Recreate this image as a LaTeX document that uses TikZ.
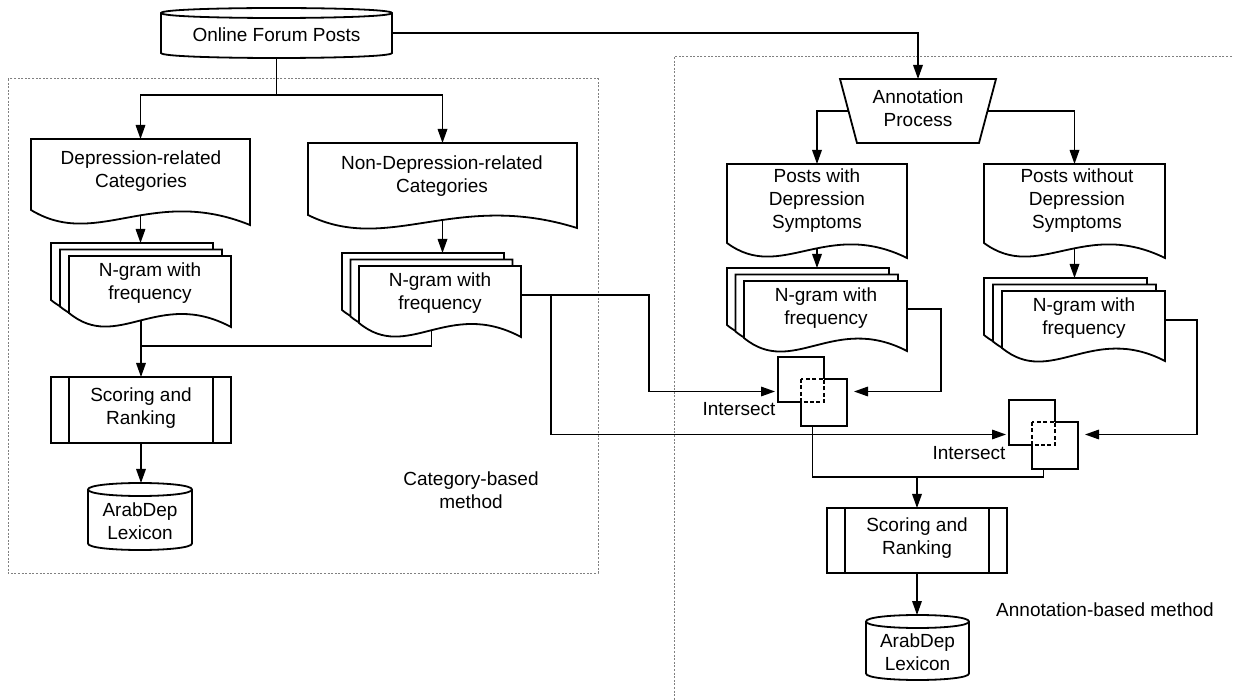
\documentclass[tikz,border=0pt]{standalone}
\usepackage{fontspec}
\setmainfont{Liberation Sans}
\usetikzlibrary{arrows.meta}
\newcommand\docp[5]{\path[shp] (#1,#2) -- (#3,#2) -- (#3,{#4+#5}) .. controls ({#1+0.55*(#3-#1)},{#4-25}) and ({#1+0.3*(#3-#1)},{#4+40}) .. (#1,#4) -- cycle;}
\newcommand\cylp[5]{%
 \path[shp] (#1,{#2+#5}) -- (#1,{#4-#5}) .. controls (#1,{#4+#5/3}) and (#3,{#4+#5/3}) .. (#3,{#4-#5}) -- (#3,{#2+#5}) .. controls (#3,{#2-#5/3}) and (#1,{#2-#5/3}) .. (#1,{#2+#5}) -- cycle;
 \draw[shp,fill=none] (#1,{#2+#5}) .. controls (#1,{#2+#5+4*#5/3}) and (#3,{#2+#5+4*#5/3}) .. (#3,{#2+#5});}
\newcommand\areanode[5]{\node[area, minimum width={(#4-#2)*0.5pt}, minimum height={(#5-#3)*0.5pt}] (#1) at ({(#2+#4)/2},{(#3+#5)/2}) {};}
\begin{document}
\begin{tikzpicture}[
  x=0.5pt, y=-0.5pt,
  shp/.style={draw=black, line width=0.9pt, fill=white, line join=miter},
  con/.style={draw=black, line width=0.7pt},
  arr/.style={con, -{Triangle[length=7pt,width=4.8pt]}},
  dotbox/.style={draw=black!50, line width=0.5pt, dash pattern=on 1pt off 0.8pt},
  lbl/.style={font=\fontsize{9.5}{11.5}\selectfont, align=center, inner sep=0pt},
  area/.style={rectangle, inner sep=0pt, outer sep=0pt, draw=none},
  dsh/.style={draw=black, line width=0.9pt, dash pattern=on 2pt off 1.2pt}
]
\useasboundingbox (0,0) rectangle (1233,700);
\clip (0,0) rectangle (1233,700);
\fill[white] (0,0) rectangle (1233,700);

% regions
\draw[dotbox] (8,79) rectangle (598,573);
\draw[dotbox] (674,57) rectangle (1260,720);

% source
\cylp{161}{8}{392}{58}{5}
\areanode{ofp}{161}{8}{392}{58}
\node[lbl] (tofp) at (276.5,35) {Online Forum Posts};

% annotation process
\path[shp] (840,79) -- (996,79) -- (979,143) -- (857,143) -- cycle;
\areanode{ap}{840}{79}{996}{143}
\node[lbl] (tap) at (918,108.5) {Annotation\\Process};
\coordinate (apL) at (848,111);
\coordinate (apR) at (988,111);

% documents
\docp{31}{139}{250}{210}{15}
\areanode{d1}{31}{139}{250}{216}
\node[lbl] (td1) at (141,171.5) {Depression-related\\Categories};
\docp{308}{143}{577}{215}{13}
\areanode{d2}{308}{143}{577}{221}
\node[lbl] (td2) at (442,176) {Non-Depression-related\\Categories};
\docp{727}{164}{907}{243}{15}
\areanode{d3}{727}{164}{907}{249}
\node[lbl] (td3) at (817,201) {Posts with\\Depression\\Symptoms};
\docp{984}{164}{1165}{243}{15}
\areanode{d4}{984}{164}{1165}{249}
\node[lbl] (td4) at (1077,201) {Posts without\\Depression\\Symptoms};

% multi documents
\docp{51}{243}{213}{300}{14}
\docp{60}{249.5}{222}{306.5}{14}
\docp{69}{256}{231}{313}{14}
\areanode{m1}{51}{243}{231}{320.5}
\node[lbl] (tm1) at (150,283) {N-gram with\\frequency};

\docp{342}{253}{504}{310}{14}
\docp{350.5}{259.5}{512.5}{316.5}{14}
\docp{359}{266}{521}{323}{14}
\areanode{m2}{342}{253}{521}{330.5}
\node[lbl] (tm2) at (440,293) {N-gram with\\frequency};

\docp{727}{268}{889}{325}{13}
\docp{735.5}{274.5}{898}{331.5}{13}
\docp{744}{281}{907}{338}{13}
\areanode{m3}{727}{268}{907}{345.5}
\node[lbl] (tm3) at (826,308) {N-gram with\\frequency};

\docp{984}{278}{1147}{335}{13}
\docp{993}{284.5}{1156}{341.5}{13}
\docp{1002}{291}{1165}{348}{13}
\areanode{m4}{984}{278}{1165}{355.5}
\node[lbl] (tm4) at (1084,318) {N-gram with\\frequency};

\coordinate (m2o) at (521,295);
\coordinate (m2br) at (551,295);
\coordinate (m3o) at (907,309);
\coordinate (m4o) at (1165,320);

% scoring boxes
\path[shp] (51,377) rectangle (231,443);
\draw[shp,fill=none] (69,377) -- (69,443) (213,377) -- (213,443);
\areanode{s1}{51}{377}{231}{443}
\node[lbl] (ts1) at (141,408) {Scoring and\\Ranking};

\path[shp] (827,508) rectangle (1007,573);
\draw[shp,fill=none] (845,508) -- (845,573) (989,508) -- (989,573);
\areanode{s2}{827}{508}{1007}{573}
\node[lbl] (ts2) at (917,538.5) {Scoring and\\Ranking};

% lexicons
\cylp{88}{483}{192}{550}{6.5}
\areanode{c1}{88}{483}{192}{550}
\node[lbl] (tc1) at (140,521.5) {ArabDep\\Lexicon};
\cylp{866}{615}{969}{680}{6.5}
\areanode{c2}{866}{615}{969}{680}
\node[lbl] (tc2) at (917.5,652.5) {ArabDep\\Lexicon};

% intersect symbols
\draw[shp,fill=none] (824,379) -- (824,357) -- (778,357) -- (778,402) -- (801,402);
\draw[shp,fill=none] (824,379) -- (847,379) -- (847,426) -- (801,426) -- (801,402);
\draw[dsh] (801,379) rectangle (824,402);
\areanode{i1}{778}{357}{847}{426}
\node[lbl] (ti1) at (739,409) {Intersect};

\draw[shp,fill=none] (1055,422) -- (1055,400) -- (1009,400) -- (1009,445) -- (1032,445);
\draw[shp,fill=none] (1055,422) -- (1078,422) -- (1078,469) -- (1032,469) -- (1032,445);
\draw[dsh] (1032,422) rectangle (1055,445);
\areanode{i2}{1009}{400}{1078}{469}
\node[lbl] (ti2) at (969,453) {Intersect};

% labels
\node[lbl] (tcat) at (471,490) {Category-based\\method};
\node[lbl] (tann) at (1105,610) {Annotation-based method};

% connectors
\draw[arr] (ofp.east) -| (ap.north);
\draw[con] (ofp.south) -- (276.5,95) coordinate (b1);
\draw[arr] (b1) -| (d1.north);
\draw[arr] (b1) -| (d2.north);
\draw[arr] (apL) -| (d3.north);
\draw[arr] (apR) -| (d4.north);
\draw[arr] (d1.south) -- (d1.south |- m1.north);
\draw[arr] (d2.south) -- (d2.south |- m2.north);
\draw[arr] (d3.south) -- (m3.north);
\draw[arr] (d4.south) -- (m4.north);
\draw[arr] (m1.south) -- (m1.south |- s1.north);
\coordinate (j1) at (141,346);
\draw[con] (m2.south) |- (j1);
\draw[arr, shorten >=1.5pt] (m2o) -- (649,295) |- (i1.west);
\draw[arr, shorten >=1.5pt] (m2br) |- (i2.west);
\draw[arr, shorten >=3.5pt] (m3o) -- (941,309) |- (i1.east);
\draw[arr, shorten >=3.5pt] (m4o) -- (1197,320) |- (i2.east);
\coordinate (j2) at (917,477);
\draw[con] (i1.south) |- (j2) -| (i2.south);
\draw[arr] (j2) -- (s2.north);
\draw[arr] (s1.south) -- (s1.south |- c1.north);
\draw[arr] (s2.south) -- (s2.south |- c2.north);
\end{tikzpicture}
\end{document}
